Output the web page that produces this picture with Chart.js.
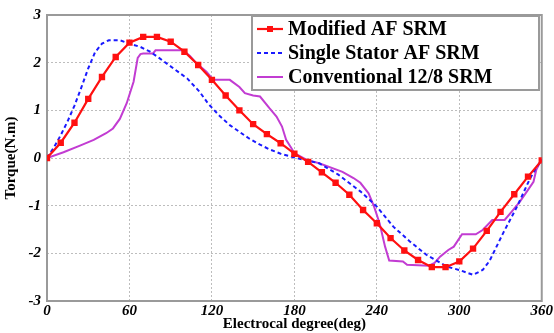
<!DOCTYPE html>
<html lang="en">
<head>
<meta charset="UTF-8">
<title>Torque vs electrical degree</title>
<script src="https://cdn.jsdelivr.net/npm/chart.js"></script>
<style>
    body { margin: 0; background: #fff; }
    #wrap { width: 554px; height: 333px; }
</style>
</head>
<body>
<div id="wrap"><canvas id="torqueChart" width="554" height="333"></canvas></div>
<script>
// Modified AF SRM (markers every 10 deg)
const modDeg = [0, 10, 20, 30, 40, 50, 60, 70, 80, 90, 100, 110, 120, 130, 140, 150, 160, 170, 180,
    190, 200, 210, 220, 230, 240, 250, 260, 270, 280, 290, 300, 310, 320, 330, 340, 350, 360];
const modTorque = [0, 0.32, 0.74, 1.24, 1.70, 2.12, 2.42, 2.54, 2.54, 2.44, 2.23, 1.95, 1.64, 1.31, 1.00, 0.71, 0.50, 0.31, 0.09,
    -0.08, -0.30, -0.52, -0.77, -1.09, -1.37, -1.68, -1.94, -2.14, -2.29, -2.29, -2.17, -1.90, -1.53, -1.13, -0.76, -0.39, -0.05];

// Single Stator AF SRM
const singleDeg = [0, 5, 10, 15, 20, 25, 30, 35, 40, 45, 53, 60, 68, 75, 82, 92, 102, 111, 117, 125, 133, 140, 147, 155,
    162, 170, 180, 198, 212, 222, 228, 240, 252, 264, 276, 291, 300, 310, 317, 322, 332, 342, 351, 355, 360];
const singleTorque = [0, 0.22, 0.48, 0.77, 1.10, 1.48, 1.88, 2.22, 2.40, 2.47, 2.47, 2.40, 2.33, 2.23, 2.09, 1.88, 1.67, 1.39, 1.15, 0.90, 0.69, 0.55, 0.41, 0.28,
    0.18, 0.09, 0.01, -0.11, -0.35, -0.57, -0.70, -1.02, -1.44, -1.75, -2.03, -2.28, -2.35, -2.45, -2.35, -2.16, -1.57, -1.02, -0.46, -0.25, -0.03];

// Conventional 12/8 SRM
const convDeg = [0, 12, 24, 34, 43, 48, 53, 58, 63, 66, 68, 70, 77, 79, 99, 104, 109, 116, 121, 133, 140, 144, 150, 155,
    162, 167, 171, 174, 178, 180, 189, 198, 215, 223, 228, 234, 238, 242, 246, 249, 259, 262, 278, 282, 286, 292, 296,
    302, 312, 317, 324, 333, 338, 344, 350, 354, 356, 360];
const convTorque = [0, 0.12, 0.26, 0.38, 0.52, 0.62, 0.82, 1.15, 1.60, 2.10, 2.18, 2.19, 2.19, 2.26, 2.26, 2.14, 1.98, 1.81, 1.64, 1.64, 1.49, 1.36, 1.31, 1.29,
    1.04, 0.87, 0.66, 0.38, 0.20, 0.10, -0.04, -0.11, -0.29, -0.42, -0.52, -0.74, -1.02, -1.37, -1.86, -2.15, -2.17, -2.24, -2.26, -2.20, -2.07, -1.93, -1.86,
    -1.60, -1.60, -1.51, -1.30, -1.30, -1.13, -0.92, -0.67, -0.50, -0.25, -0.02];

const seriesNames = ['Modified AF SRM', 'Single Stator AF SRM', 'Conventional 12/8 SRM'];

function toPoints(xs, ys) {
    return xs.map((x, i) => ({ x: x, y: ys[i] }));
}

const serif = '"Liberation Serif", "Times New Roman", serif';

// frame around the plot area (MATLAB style box)
const framePlugin = {
    id: 'frame',
    beforeDatasetsDraw(chart) {
        const a = chart.chartArea;
        const ctx = chart.ctx;
        ctx.save();
        ctx.strokeStyle = '#9a9a9a';
        ctx.lineWidth = 2;
        ctx.strokeRect(a.left, a.top, a.right - a.left, a.bottom - a.top);
        ctx.restore();
    }
};

// boxed legend in the top right corner
const boxLegend = {
    id: 'boxLegend',
    afterDraw(chart) {
        const ctx = chart.ctx;
        const x0 = 252, y0 = 16, w = 287, h = 74;
        ctx.save();
        ctx.fillStyle = '#fff';
        ctx.fillRect(x0, y0, w, h);
        ctx.strokeStyle = '#9a9a9a';
        ctx.lineWidth = 2;
        ctx.strokeRect(x0, y0, w, h);
        ctx.font = 'bold 20px ' + serif;
        ctx.textBaseline = 'middle';
        chart.data.datasets.forEach((ds, i) => {
            const y = 29 + i * 24;
            ctx.strokeStyle = ds.borderColor;
            ctx.lineWidth = ds.borderWidth;
            ctx.setLineDash(ds.borderDash || []);
            ctx.beginPath();
            ctx.moveTo(257, y);
            ctx.lineTo(283, y);
            ctx.stroke();
            ctx.setLineDash([]);
            if (ds.pointRadius > 0) {
                ctx.fillStyle = ds.pointBackgroundColor;
                ctx.fillRect(267, y - 3, 6, 6);
            }
            ctx.fillStyle = '#000';
            ctx.fillText(ds.label, 288, y + 1);
        });
        ctx.restore();
    }
};

const ctx = document.getElementById('torqueChart').getContext('2d');
const torqueChart = new Chart(ctx, {
    type: 'line',
    data: {
        datasets: [
            {
                label: seriesNames[0],
                data: toPoints(modDeg, modTorque),
                borderColor: '#ff1010',
                backgroundColor: '#ff1010',
                pointBackgroundColor: '#ff1010',
                pointBorderColor: '#ff1010',
                borderWidth: 2.2,
                pointStyle: 'rect',
                pointRadius: 4.5,
                pointBorderWidth: 0,
                tension: 0
            },
            {
                label: seriesNames[1],
                data: toPoints(singleDeg, singleTorque),
                borderColor: '#1a1aff',
                borderWidth: 2,
                borderDash: [4, 3],
                pointRadius: 0,
                tension: 0
            },
            {
                label: seriesNames[2],
                data: toPoints(convDeg, convTorque),
                borderColor: '#c23cd2',
                borderWidth: 2,
                pointRadius: 0,
                tension: 0
            }
        ]
    },
    options: {
        responsive: false,
        animation: false,
        layout: { padding: { top: 15, right: 12, left: 0, bottom: 0 } },
        plugins: {
            legend: { display: false },
            tooltip: { enabled: false }
        },
        scales: {
            x: {
                type: 'linear',
                min: 0,
                max: 360,
                ticks: {
                    stepSize: 60,
                    color: '#000',
                    padding: 1,
                    maxRotation: 0,
                    font: { family: serif, size: 15, weight: 'bold', style: 'italic' }
                },
                grid: { color: '#bdbdbd', drawTicks: false },
                border: { display: false, dash: [2, 2] },
                title: {
                    display: true,
                    text: 'Electrocal degree(deg)',
                    color: '#000',
                    padding: { top: -2, bottom: 0 },
                    font: { family: serif, size: 15, weight: 'bold' }
                },
                afterFit(scale) { scale.height = 32; }
            },
            y: {
                min: -3,
                max: 3,
                ticks: {
                    stepSize: 1,
                    color: '#000',
                    padding: 6,
                    font: { family: serif, size: 15, weight: 'bold', style: 'italic' }
                },
                grid: { color: '#bdbdbd', drawTicks: false },
                border: { display: false, dash: [2, 2] },
                title: {
                    display: true,
                    text: 'Torque(N.m)',
                    color: '#000',
                    padding: { top: 2, bottom: 0 },
                    font: { family: serif, size: 15, weight: 'bold' }
                },
                afterFit(scale) { scale.width = 47; }
            }
        }
    },
    plugins: [framePlugin, boxLegend]
});
</script>
</body>
</html>
